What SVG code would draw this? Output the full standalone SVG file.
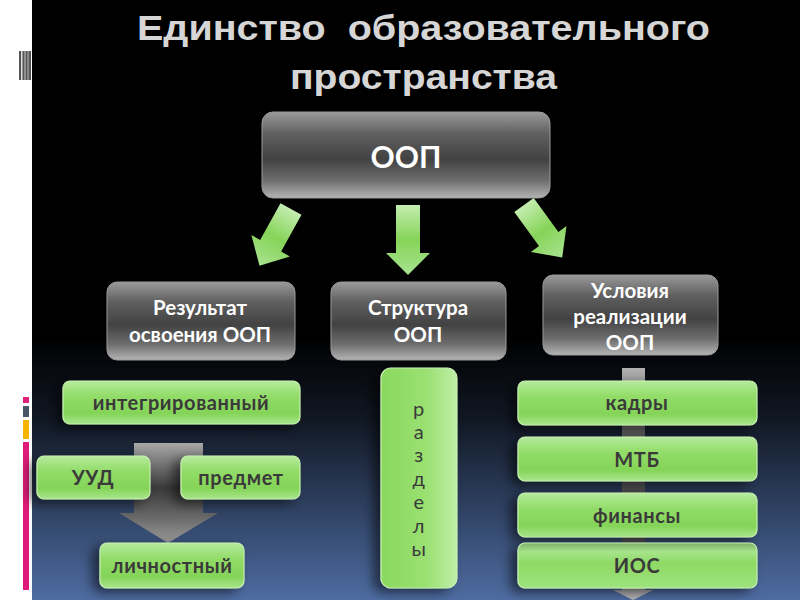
<svg xmlns="http://www.w3.org/2000/svg" width="800" height="600" viewBox="0 0 800 600">
<defs>
<linearGradient id="bg" x1="0" y1="0" x2="0" y2="1">
<stop offset="0" stop-color="#000"/>
<stop offset="0.56" stop-color="#000"/>
<stop offset="0.7" stop-color="#111824"/>
<stop offset="1" stop-color="#4e6ca2"/>
</linearGradient>
<linearGradient id="gray" x1="0" y1="0" x2="0" y2="1">
<stop offset="0" stop-color="#9a9a9a"/>
<stop offset="0.25" stop-color="#606060"/>
<stop offset="0.55" stop-color="#424242"/>
<stop offset="0.8" stop-color="#6e6e6e"/>
<stop offset="1" stop-color="#b4b4b4"/>
</linearGradient>
<linearGradient id="green" x1="0" y1="0" x2="0" y2="1">
<stop offset="0" stop-color="#b6eb9e"/>
<stop offset="0.35" stop-color="#92dc68"/>
<stop offset="0.75" stop-color="#84d458"/>
<stop offset="1" stop-color="#a8e68c"/>
</linearGradient>
<linearGradient id="greenV" x1="0" y1="0" x2="1" y2="0">
<stop offset="0" stop-color="#8ad85e"/>
<stop offset="0.6" stop-color="#9ae072"/>
<stop offset="1" stop-color="#c0efa8"/>
</linearGradient>
<linearGradient id="ios" x1="0" y1="0" x2="0" y2="1">
<stop offset="0" stop-color="#7fae6a"/>
<stop offset="0.2" stop-color="#a6e48a"/>
<stop offset="0.45" stop-color="#8ed964"/>
<stop offset="1" stop-color="#9ee37e"/>
</linearGradient>
<linearGradient id="garrow" x1="0" y1="0" x2="0" y2="1">
<stop offset="0" stop-color="#c4edb0"/>
<stop offset="0.5" stop-color="#86d458"/>
<stop offset="1" stop-color="#a8e290"/>
</linearGradient>
<linearGradient id="grayArrow" x1="0" y1="0" x2="0" y2="1">
<stop offset="0" stop-color="#a8a8a8"/>
<stop offset="0.45" stop-color="#3a3a3a"/>
<stop offset="0.75" stop-color="#6a6a6a"/>
<stop offset="1" stop-color="#9a9a9a"/>
</linearGradient>
<linearGradient id="grayBar" x1="0" y1="0" x2="0" y2="1">
<stop offset="0" stop-color="#b0b0b0"/>
<stop offset="0.3" stop-color="#585858"/>
<stop offset="0.7" stop-color="#4a4a4a"/>
<stop offset="1" stop-color="#b8b8b8"/>
</linearGradient>
<filter id="sh" x="-30%" y="-30%" width="160%" height="180%">
<feDropShadow dx="-7" dy="4" stdDeviation="6" flood-color="#000" flood-opacity="0.55"/>
</filter>
</defs>
<style>
.title{font-family:"Liberation Sans",Arial,sans-serif;font-weight:bold;font-size:35px;fill:#d6d6d6;white-space:pre}
.gbox{fill:url(#gray);stroke:#9a9a9a;stroke-width:1}
.gtxt{font-family:Lato,"Noto Sans",sans-serif;font-weight:bold;fill:#fff;text-anchor:middle}
.grn{fill:url(#green);stroke:#c6f0b0;stroke-width:1.2;filter:url(#sh)}
.ltxt{font-family:Lato,"Noto Sans",sans-serif;font-weight:bold;font-size:20px;fill:#3a3a3a;text-anchor:middle;letter-spacing:0.6px}
.arr{fill:url(#garrow)}
</style>
<rect x="0" y="0" width="800" height="600" fill="#fff"/>
<rect x="32" y="0" width="768" height="600" fill="url(#bg)"/>
<g id="side-marks">
<rect x="19" y="51" width="12" height="29" fill="#555"/>
<rect x="21" y="51" width="1.5" height="29" fill="#ddd"/>
<rect x="24.5" y="51" width="1" height="29" fill="#ccc"/>
<rect x="27.5" y="51" width="1" height="29" fill="#bbb"/>
<rect x="23" y="397" width="6" height="6" fill="#e0207a"/>
<rect x="23" y="406" width="6" height="11" fill="#4a5568"/>
<rect x="23" y="420" width="6" height="19" fill="#f6b400"/>
<rect x="23" y="442" width="6" height="148" fill="#e01a7a"/>
</g>
<g id="title">
<text class="title" x="137" y="40" textLength="573" lengthAdjust="spacingAndGlyphs">Единство  образовательного</text>
<text class="title" x="290" y="89" textLength="267" lengthAdjust="spacingAndGlyphs">пространства</text>
</g>
<g id="connectors">
<polygon class="arr" transform="translate(408,205)" points="-12,0 12,0 12,48 22,48 0,70 -22,48 -12,48"/>
<polygon class="arr" transform="translate(291,209) rotate(29)" points="-12,0 12,0 12,42 22,42 0,65 -22,42 -12,42"/>
<polygon class="arr" transform="translate(524,205) rotate(-36)" points="-12,0 12,0 12,42 22,42 0,65 -22,42 -12,42"/>
<polygon fill="url(#grayArrow)" points="134,443 203,443 203,513 218,513 168,543 119,513 134,513"/>
<polygon fill="url(#grayBar)" points="622,368 645,368 645,590 653,590 633,600 613,590 622,590"/>
</g>
<g id="node-oop">
<rect class="gbox" x="262" y="112" width="288" height="86" rx="11"/>
<text class="gtxt" x="406" y="168" font-size="30">ООП</text>
</g>
<g id="node-result">
<rect class="gbox" x="107" y="282" width="188" height="78" rx="10"/>
<text class="gtxt" x="200" y="315" font-size="20.5">Результат</text>
<text class="gtxt" x="200" y="342" font-size="20.5">освоения ООП</text>
</g>
<g id="node-struct">
<rect class="gbox" x="331" y="282" width="175" height="78" rx="10"/>
<text class="gtxt" x="418" y="315" font-size="20.5">Структура</text>
<text class="gtxt" x="418" y="342" font-size="20.5">ООП</text>
</g>
<g id="node-cond">
<rect class="gbox" x="543" y="275" width="175" height="80" rx="10"/>
<text class="gtxt" x="630" y="298" font-size="20.5">Условия</text>
<text class="gtxt" x="630" y="324" font-size="20.5">реализации</text>
<text class="gtxt" x="630" y="350" font-size="20.5">ООП</text>
</g>
<g id="node-integr">
<rect class="grn" x="63" y="381" width="237" height="43" rx="7"/>
<text class="ltxt" x="181" y="410">интегрированный</text>
</g>
<g id="node-uud">
<rect class="grn" x="37" y="456" width="113" height="43" rx="7"/>
<text class="ltxt" x="93" y="485">УУД</text>
</g>
<g id="node-subject">
<rect class="grn" x="181" y="456" width="119" height="43" rx="7"/>
<text class="ltxt" x="241" y="485">предмет</text>
</g>
<g id="node-personal">
<rect class="grn" x="100" y="543" width="144" height="45" rx="7"/>
<text class="ltxt" x="172" y="573">личностный</text>
</g>
<g id="node-sections">
<rect x="381" y="368" width="76" height="220" rx="10" fill="url(#greenV)" stroke="#c6f0b0" stroke-width="1.2" filter="url(#sh)"/>
<g class="ltxt" style="font-weight:normal">
<text x="419" y="416">р</text>
<text x="419" y="439">а</text>
<text x="419" y="462">з</text>
<text x="419" y="486">д</text>
<text x="419" y="509">е</text>
<text x="419" y="533">л</text>
<text x="419" y="556">ы</text>
</g>
</g>
<g id="node-staff">
<rect class="grn" x="518" y="381" width="239" height="44" rx="7"/>
<text class="ltxt" x="637" y="410">кадры</text>
</g>
<g id="node-mtb">
<rect class="grn" x="518" y="437" width="239" height="44" rx="7"/>
<text class="ltxt" x="637" y="467">МТБ</text>
</g>
<g id="node-finance">
<rect class="grn" x="518" y="493" width="239" height="44" rx="7"/>
<text class="ltxt" x="637" y="523">финансы</text>
</g>
<g id="node-ios">
<rect x="518" y="543" width="239" height="45" rx="7" fill="url(#ios)" stroke="#c6f0b0" stroke-width="1.2" filter="url(#sh)"/>
<text class="ltxt" x="637" y="573">ИОС</text>
</g>
</svg>
